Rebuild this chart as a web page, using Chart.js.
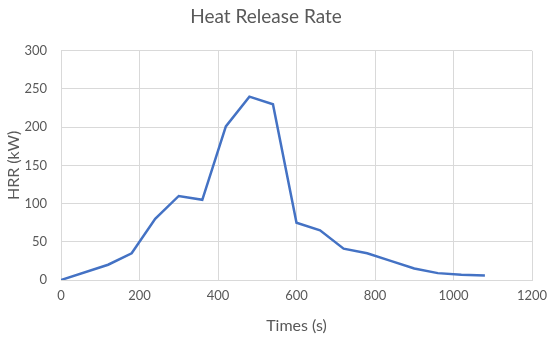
<!DOCTYPE html>
<html><head><meta charset="utf-8">
<script src="https://cdn.jsdelivr.net/npm/chart.js@4"></script>
<style>html,body{margin:0;padding:0;background:#fff}canvas{display:block}</style>
</head><body>
<canvas id="c" width="550" height="339"></canvas>
<script>
const times = [0, 120, 180, 240, 300, 360, 420, 480, 540, 600, 660, 720, 780, 840, 900, 960, 1020, 1080];
const hrr   = [0, 20, 35, 80, 110, 105, 201, 240, 230, 75, 65, 41, 35, 25, 15, 9, 7, 6];
const chartTitle = 'Heat Release Rate';
const xTitle = 'Times (s)';
const yTitle = 'HRR (kW)';

const font = 'Lato, "Open Sans", sans-serif';
const txt = '#595959';
new Chart(document.getElementById('c'), {
  type: 'scatter',
  data: { datasets: [{
    data: times.map((t, i) => ({x: t, y: hrr[i]})),
    showLine: true, borderColor: '#4472C4', borderWidth: 2.5,
    pointRadius: 0, tension: 0, fill: false
  }]},
  options: {
    responsive: false, animation: false,
    layout: { padding: { left: 0, right: 18, top: 0, bottom: 0 } },
    plugins: {
      legend: { display: false }, tooltip: { enabled: false },
      title: { display: true, text: chartTitle, color: txt,
        font: { family: font, size: 19, weight: 'normal' }, padding: { top: 5, bottom: 23 } }
    },
    scales: {
      x: { type: 'linear', min: 0, max: 1200,
        ticks: { stepSize: 200, color: txt, font: { family: font, size: 13 }, padding: 8,
          callback: v => String(v) },
        grid: { color: '#d9d9d9', drawTicks: false, lineWidth: 1 },
        border: { color: '#d9d9d9' },
        title: { display: true, text: xTitle, color: txt, font: { family: font, size: 16 }, padding: { top: 5 } },
        afterFit: s => { s.height = 59; s.paddingRight = 0; s.paddingLeft = 0; }
      },
      y: { min: 0, max: 300,
        ticks: { stepSize: 50, color: txt, font: { family: font, size: 13 }, padding: 14,
          callback: v => String(v) },
        grid: { color: '#d9d9d9', drawTicks: false, lineWidth: 1 },
        border: { color: '#d9d9d9' },
        title: { display: true, text: yTitle, color: txt, font: { family: font, size: 16 }, padding: { bottom: 2 } },
        afterFit: s => { s.width = 61; }
      }
    }
  }
});
</script>
</body></html>
